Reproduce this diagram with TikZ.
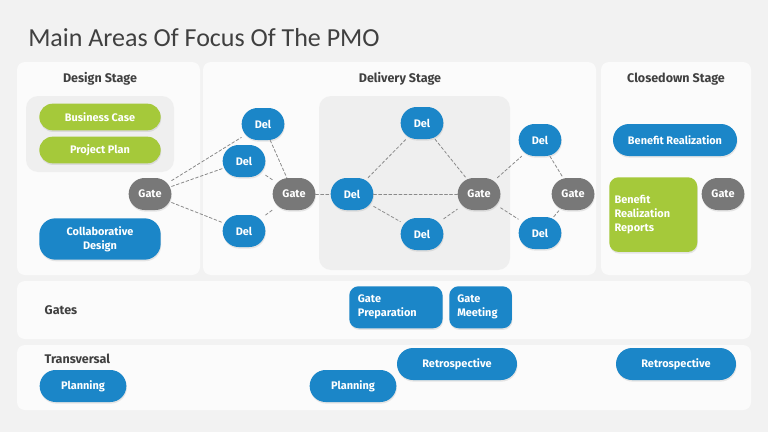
\documentclass[tikz,border=0pt]{standalone}
\usepackage{fontspec}
\setmainfont{Carlito}
\newfontfamily\lblfont{Fira Sans}
\usetikzlibrary{shadows}

\definecolor{pagebg}{HTML}{F2F2F2}
\definecolor{panelbg}{HTML}{FBFBFB}
\definecolor{innerbg}{HTML}{EFEFEF}
\definecolor{delblue}{HTML}{1B86C8}
\definecolor{leafgreen}{HTML}{A5C93A}
\definecolor{gategray}{HTML}{787878}
\definecolor{titlegray}{HTML}{404040}
\definecolor{linkgray}{HTML}{8A8A8A}

\tikzset{
  panel/.style={fill=panelbg, draw=none, rounded corners=6pt},
  innerbox/.style={fill=innerbg, draw=none, rounded corners=9pt},
  heading/.style={font=\lblfont\bfseries\fontsize{9.4}{11}\selectfont, text=titlegray},
  pill/.style={text=white, inner sep=0pt, align=center,
    font=\lblfont\bfseries\fontsize{8.2}{10.5}\selectfont,
    drop shadow={opacity=0.18, shadow xshift=0.4pt, shadow yshift=-1.2pt}},
  del/.style={pill, fill=delblue, minimum width=32pt, minimum height=24pt, rounded corners=12pt},
  gatenode/.style={del, fill=gategray},
  widepill/.style={pill, minimum width=91pt, minimum height=20pt, rounded corners=10pt},
  squarebox/.style={pill, align=left, anchor=north west, rounded corners=7pt},
  link/.style={draw=linkgray, line width=0.6pt, dash pattern=on 2.2pt off 1.6pt}
}

\begin{document}
\begin{tikzpicture}[x=0.75pt,y=-0.75pt,line cap=round,line join=round]
  \useasboundingbox[fill=pagebg] (0,0) rectangle (768,432);

  % title
  \node[anchor=base west, inner sep=0pt, text=titlegray, font=\fontsize{19.5}{22}\selectfont] (title) at (28,46) {Main Areas Of Focus Of The PMO};

  % panels
  \fill[panel] (17,62) rectangle (200,275);
  \fill[panel] (203,62) rectangle (596,275);
  \fill[panel] (601,62) rectangle (751,275);
  \fill[panel] (17,281) rectangle (751,339);
  \fill[panel] (17,345) rectangle (751,410);
  \fill[innerbox] (26,96) rectangle (174,172);
  \fill[innerbox] (319,96) rectangle (510,270);

  % headings
  \node[heading] (hdesign) at (100,79) {Design Stage};
  \node[heading] (hdelivery) at (400,79) {Delivery Stage};
  \node[heading] (hclose) at (676,79) {Closedown Stage};
  \node[heading, anchor=west] (hgates) at (40,310) {Gates};
  \node[heading, anchor=west] (htrans) at (40,359) {Transversal};

  % design stage
  \node[widepill, fill=leafgreen] (bcase) at (100,117) {Business Case};
  \node[widepill, fill=leafgreen] (pplan) at (100,150) {Project Plan};
  \node[pill, fill=delblue, minimum width=91pt, minimum height=31pt, rounded corners=12pt] (collab) at (100,239) {Collaborative\\Design};
  \node[gatenode] (gateA) at (150,194) {Gate};

  % delivery stage
  \node[del] (delA) at (263,124) {Del};
  \node[del] (delB) at (244,161) {Del};
  \node[del] (delC) at (244,231) {Del};
  \node[gatenode] (gateB) at (294,194) {Gate};
  \node[del] (delD) at (352,194) {Del};
  \node[del] (delE) at (422,123) {Del};
  \node[del] (delF) at (422,234) {Del};
  \node[gatenode] (gateC) at (479,194) {Gate};
  \node[del] (delG) at (540,140) {Del};
  \node[del] (delH) at (540,233) {Del};
  \node[gatenode] (gateD) at (573,194) {Gate};

  % closedown stage
  \node[widepill, fill=delblue, minimum width=93pt, minimum height=24pt, rounded corners=12pt] (benefit) at (675,140) {Benefit Realization};
  \node[squarebox, fill=leafgreen, minimum width=66pt, minimum height=56pt, text width=58pt, inner xsep=4pt, inner ysep=8pt] (reports) at (609,177) {Benefit\\Realization\\Reports};
  \node[gatenode] (gateE) at (723,194) {Gate};

  % gates row
  \node[squarebox, fill=delblue, minimum height=31.5pt, text width=57pt, inner xsep=6.5pt, inner ysep=4.5pt] (gprep) at (349,286) {Gate\\Preparation};
  \node[squarebox, fill=delblue, minimum height=31.5pt, text width=35pt, inner xsep=6pt, inner ysep=4.5pt] (gmeet) at (449,286) {Gate\\Meeting};

  % transversal row
  \node[del, minimum width=65pt] (planA) at (83,386) {Planning};
  \node[del, minimum width=65pt] (planB) at (353,386) {Planning};
  \node[del, minimum width=90pt] (retroA) at (457,364) {Retrospective};
  \node[del, minimum width=90pt] (retroB) at (676,364) {Retrospective};

  % dashed links
  \draw[link] (gateA) -- (delA);
  \draw[link] (gateA) -- (delB);
  \draw[link] (gateA) -- (delC);
  \draw[link] (delA) -- (gateB);
  \draw[link] (delB) -- (gateB);
  \draw[link] (delC) -- (gateB);
  \draw[link] (gateB) -- (delD);
  \draw[link] (delD) -- (delE);
  \draw[link] (delD) -- (gateC);
  \draw[link] (delD) -- (delF);
  \draw[link] (delE) -- (gateC);
  \draw[link] (delF) -- (gateC);
  \draw[link] (gateC) -- (delG);
  \draw[link] (gateC) -- (delH);
  \draw[link] (delG) -- (gateD);
  \draw[link] (delH) -- (gateD);
\end{tikzpicture}
\end{document}
